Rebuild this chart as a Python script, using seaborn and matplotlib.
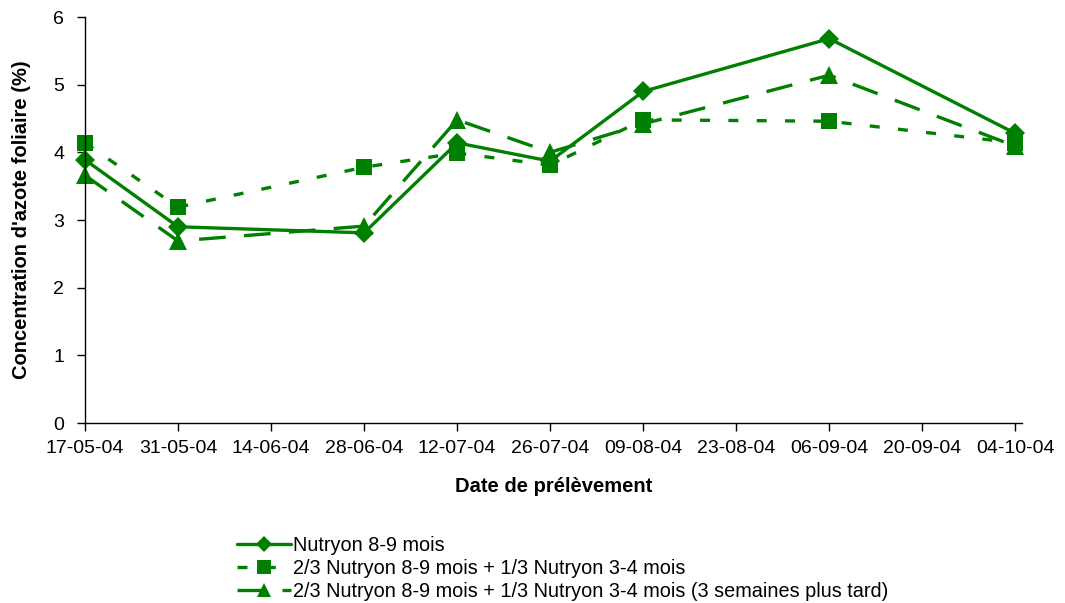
import pandas as pd
import matplotlib
matplotlib.use("Agg")
import matplotlib.pyplot as plt
import matplotlib.dates as mdates
import seaborn as sns

# dates de prélèvement
dates = ["2004-05-17", "2004-05-31", "2004-06-28", "2004-07-12",
         "2004-07-26", "2004-08-09", "2004-09-06", "2004-10-04"]

serie_labels = [
    "Nutryon 8-9 mois",
    "2/3 Nutryon 8-9 mois + 1/3 Nutryon 3-4 mois",
    "2/3 Nutryon 8-9 mois + 1/3 Nutryon 3-4 mois (3 semaines plus tard)",
]

nutryon_89 = [3.89, 2.90, 2.81, 4.14, 3.87, 4.90, 5.68, 4.28]
mix_23_13 = [4.14, 3.19, 3.78, 3.99, 3.81, 4.48, 4.46, 4.14]
mix_tard = [3.66, 2.69, 2.91, 4.48, 4.00, 4.42, 5.14, 4.09]

tick_dates = pd.date_range("2004-05-17", "2004-10-04", freq="14D")

rows = []
for lab, vals in zip(serie_labels, [nutryon_89, mix_23_13, mix_tard]):
    for d, v in zip(dates, vals):
        rows.append({"date": pd.Timestamp(d), "azote": v, "serie": lab})
df = pd.DataFrame(rows)

sns.set_style("ticks")
plt.rcParams["font.family"] = ["Liberation Sans", "DejaVu Sans"]

green = "#008000"
fig, ax = plt.subplots(figsize=(10.65, 6.03), dpi=100)
fig.subplots_adjust(left=85 / 1065, right=1022 / 1065, top=1 - 17 / 603, bottom=1 - 423 / 603)

sns.lineplot(data=df, x="date", y="azote", hue="serie", style="serie",
             palette={l: green for l in serie_labels},
             markers={serie_labels[0]: "D", serie_labels[1]: "s", serie_labels[2]: "^"},
             dashes={serie_labels[0]: "", serie_labels[1]: (3, 5.5), serie_labels[2]: (8, 5.5)},
             linewidth=2.4, markeredgewidth=0, ax=ax, legend=True)

for line in ax.get_lines():
    line.set_clip_on(False)
    m = line.get_marker()
    if m == "D":
        line.set_markersize(10)
    elif m == "s":
        line.set_markersize(11)
    elif m == "^":
        line.set_markersize(13)

ax.set_ylim(0, 6)
ax.set_yticks(range(0, 7))
ax.set_xlim(pd.Timestamp("2004-05-17"), pd.Timestamp("2004-10-05"))
ax.set_xticks(tick_dates)
ax.xaxis.set_major_formatter(mdates.DateFormatter("%d-%m-%y"))
ax.tick_params(axis="both", labelsize=14, length=6, width=1, color="black", labelcolor="black")
ax.tick_params(axis="x", pad=6)
ax.tick_params(axis="y", pad=9)
for s in ["top", "right"]:
    ax.spines[s].set_visible(False)
for s in ["left", "bottom"]:
    ax.spines[s].set_color("black")
    ax.spines[s].set_linewidth(1)

ax.set_xlabel("Date de prélèvement", fontsize=14.5, fontweight="bold", labelpad=15, color="black")
ax.set_ylabel("Concentration d'azote foliaire (%)", fontsize=14.5, fontweight="bold", labelpad=16,
              color="black")

handles, labels = ax.get_legend_handles_labels()
ax.get_legend().remove()
for h in handles:
    m = h.get_marker()
    h.set_markersize({"D": 8, "s": 10, "^": 10}.get(m, 8))
fig.legend(handles, labels, loc="upper left", bbox_to_anchor=(237 / 1065, 1 - 536 / 603),
           frameon=False, fontsize=14.3, handlelength=2.7, handletextpad=0.1,
           labelspacing=0.2, borderpad=0, borderaxespad=0, labelcolor="black")

fig.savefig("out.png", dpi=100)
